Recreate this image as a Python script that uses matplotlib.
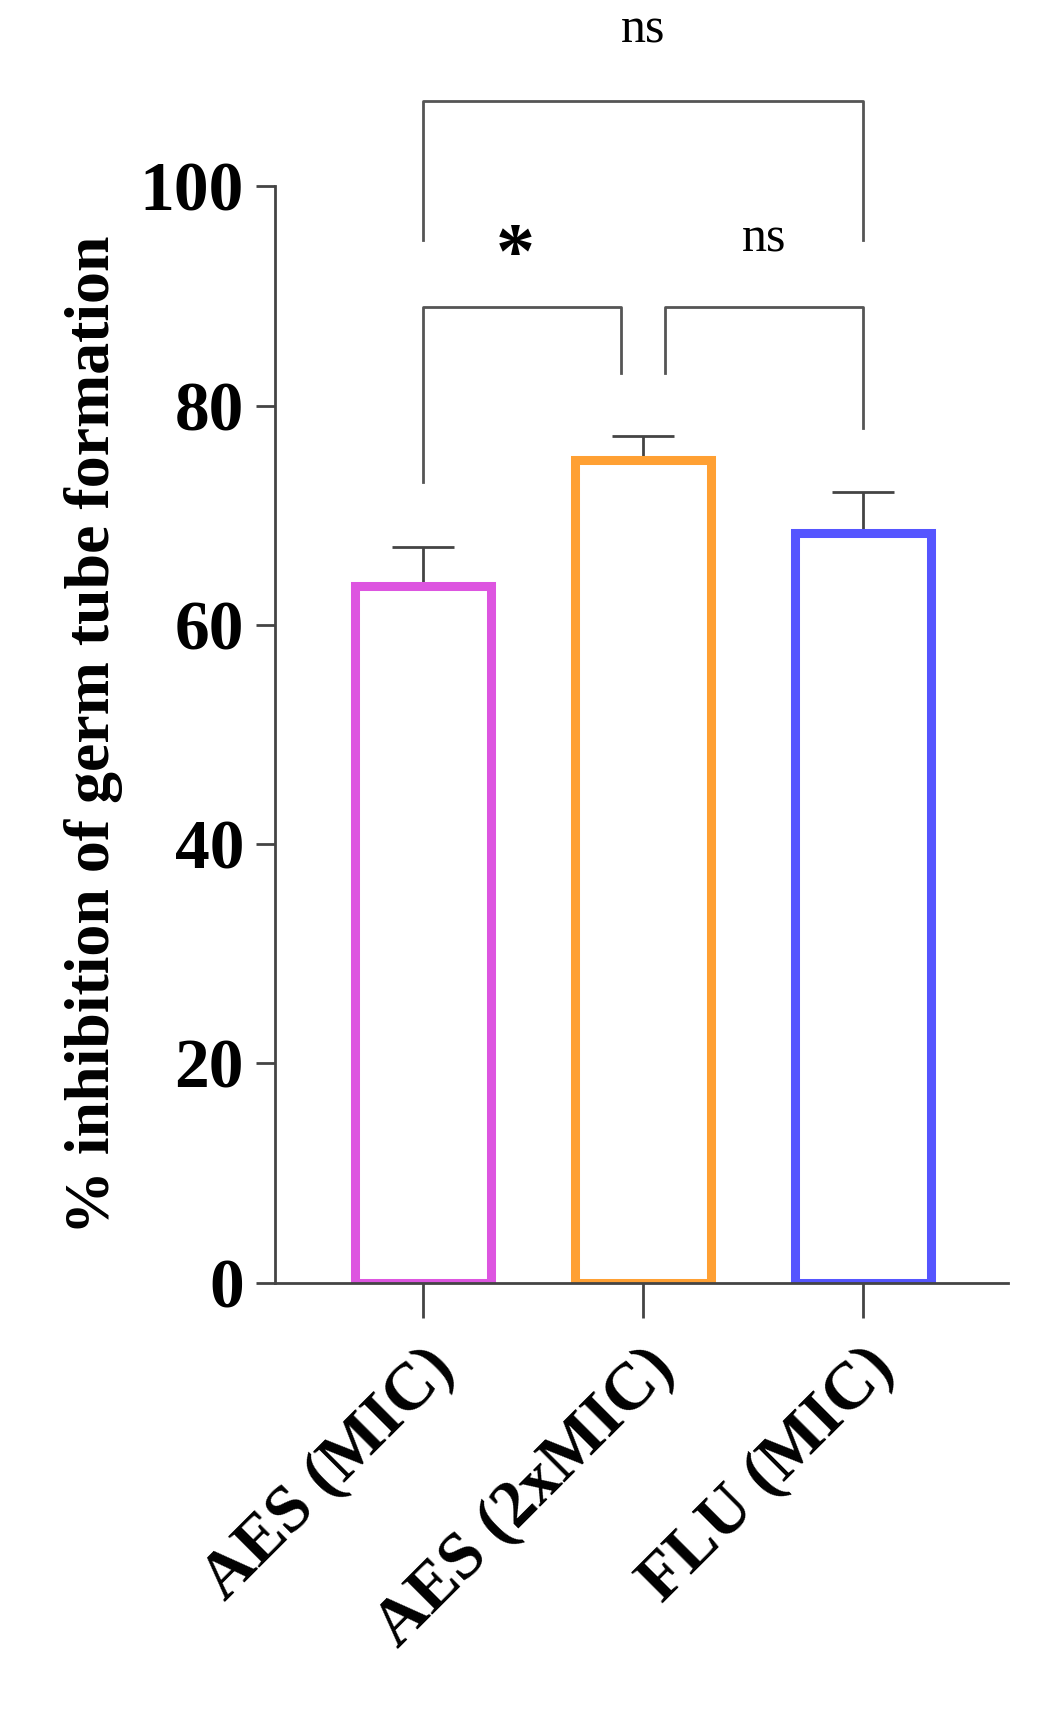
import matplotlib.pyplot as plt
import numpy as np

# Data
groups = ['AES (MIC)', 'AES (2xMIC)', 'FLU (MIC)']
means = [63.5, 75.0, 68.4]
sd_upper = [3.6, 2.2, 3.7]
colors = ['#dd55e0', '#ffa033', '#5555ff']

plt.rcParams['font.family'] = ['Liberation Serif', 'DejaVu Serif']
plt.rcParams['font.weight'] = 'bold'

fig = plt.figure(figsize=(10.4, 17.1), dpi=100)
ax = fig.add_axes([0.264, 0.25, 0.705, 0.641])

x = np.arange(len(groups))
ax.bar(x, means, width=0.62, facecolor='white', edgecolor=colors, linewidth=6.5, zorder=2)
ax.errorbar(x, means, yerr=[np.zeros(3), sd_upper], fmt='none', ecolor='#444444',
            elinewidth=2, capsize=22, capthick=2, zorder=1)

ax.set_ylim(0, 100)
ax.set_xlim(-0.675, 2.66)
ax.set_yticks([0, 20, 40, 60, 80, 100])
ax.set_xticks(x)
ax.set_xticklabels(groups, rotation=45, ha='right', rotation_mode='anchor')
ax.tick_params(axis='y', labelsize=50, width=2, length=14, color='#444444', pad=8)
ax.tick_params(axis='x', labelsize=48, width=2, length=25, color='#444444', pad=14)
for s in ['top', 'right']:
    ax.spines[s].set_visible(False)
for s in ['left', 'bottom']:
    ax.spines[s].set_linewidth(2)
    ax.spines[s].set_color('#444444')
ax.set_ylabel('% inhibition of germ tube formation', fontsize=46, fontweight='bold', labelpad=12)

# significance brackets
def bracket(x1, x2, y, h1, h2, label, lx, ly, fs, fw='normal'):
    ax.plot([x1, x1, x2, x2], [h1, y, y, h2], color='#555555', lw=2, clip_on=False)
    ax.text(lx, ly, label, ha='center', va='center', fontsize=fs, fontweight=fw, clip_on=False)

bracket(0, 2, 107.8, 95.1, 95.1, 'ns', 1.0, 114.2, 36)
bracket(0, 0.9, 89, 73, 83, '*', 0.42, 93.5, 56, 'bold')
bracket(1.1, 2, 89, 83, 78, 'ns', 1.55, 95.2, 36)

fig.savefig('out.png', dpi=100)
